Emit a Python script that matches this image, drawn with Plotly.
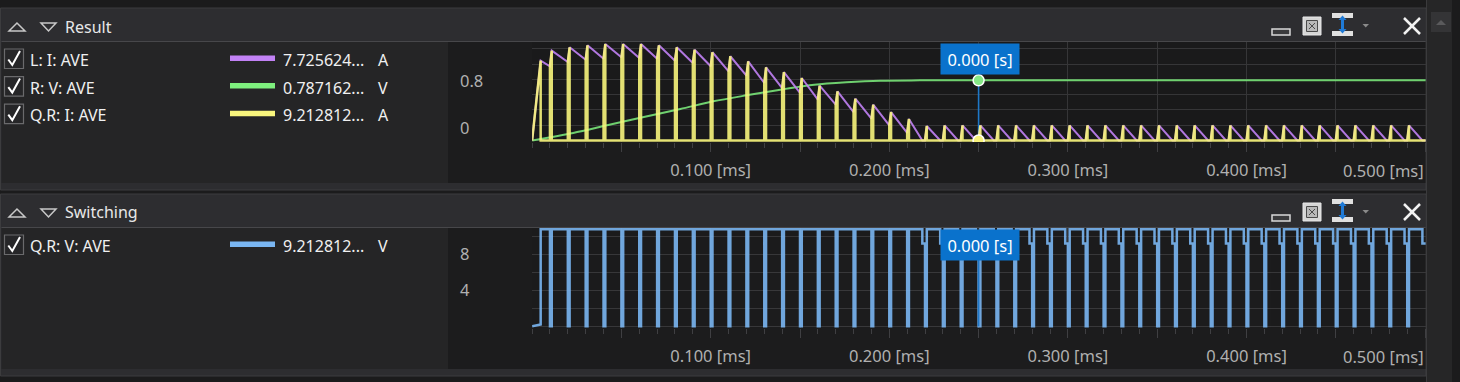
import plotly.graph_objects as go

W, H = 1460, 382

# ---------------- data ----------------
switch_on_ms = [0.00, 0.01, 0.02, 0.03, 0.04, 0.05, 0.06, 0.07, 0.08, 0.09,
                0.10, 0.11, 0.12, 0.13, 0.14, 0.15, 0.16, 0.17, 0.18, 0.19,
                0.20, 0.21, 0.22, 0.23, 0.24, 0.25, 0.26, 0.27, 0.28, 0.29,
                0.30, 0.31, 0.32, 0.33, 0.34, 0.35, 0.36, 0.37, 0.38, 0.39,
                0.40, 0.41, 0.42, 0.43, 0.44, 0.45, 0.46, 0.47, 0.48, 0.49]
first_on_end_ms = 0.0048
on_time_ms = 0.001
dcm_fall_ms = 0.0075
x_end_ms = 0.5004

# inductor current: peak at end of each on-time, value at start of each on-time
L_peak_A = [9.98, 11.23, 11.65, 11.90, 12.06, 12.06, 12.06, 11.90, 11.65, 11.35,
            11.03, 10.53, 9.90, 9.15, 8.56, 7.81, 6.85, 6.15, 5.23, 4.48,
            3.56, 2.69, 1.81, 1.88, 1.90, 1.90, 1.90, 1.90, 1.90, 1.90,
            1.90, 1.90, 1.90, 1.90, 1.90, 1.90, 1.90, 1.90, 1.90, 1.90,
            1.90, 1.90, 1.90, 1.90, 1.90, 1.90, 1.90, 1.90, 1.90, 1.90]
L_valley_A = [0.00, 9.28, 9.81, 10.10, 10.23, 10.40, 10.31, 10.23, 9.98, 9.69,
              9.28, 8.65, 8.10, 7.19, 6.56, 5.94, 5.10, 4.48, 3.56, 2.73,
              1.90, 0.94, 0.00, 0.00, 0.00, 0.00, 0.00, 0.00, 0.00, 0.00,
              0.00, 0.00, 0.00, 0.00, 0.00, 0.00, 0.00, 0.00, 0.00, 0.00,
              0.00, 0.00, 0.00, 0.00, 0.00, 0.00, 0.00, 0.00, 0.00, 0.00]

R_t_ms = [0.0, 0.023, 0.042, 0.060, 0.083, 0.1015, 0.120, 0.139, 0.158, 0.176,
          0.195, 0.217, 0.25, 0.30, 0.40, 0.5004]
R_V = [0.0, 0.098, 0.199, 0.295, 0.412, 0.513, 0.591, 0.665, 0.730, 0.762,
       0.783, 0.787, 0.787, 0.787, 0.787, 0.787]

Q_high_V = 10.78
Q_mid_V = 9.21
Q_on_V = 0.0
Q_first_on_end_V = 0.2

cursor_ms = 0.25
cursor_label = "0.000 [s]"
cursor_R_V = 0.787162
cursor_Q_I = 0.0
cursor_Q_V = 9.212812

res_names = ["L: I: AVE", "R: V: AVE", "Q.R: I: AVE"]
res_colors = ["#c282f5", "#7ef07e", "#f9f67d"]
res_values = ["7.725624...", "0.787162...", "9.212812..."]
res_units = ["A", "V", "A"]
sw_names = ["Q.R: V: AVE"]
sw_colors = ["#7ab6f2"]
sw_values = ["9.212812..."]
sw_units = ["V"]

grid_ms = [0.05, 0.10, 0.15, 0.20, 0.25, 0.30, 0.35, 0.40, 0.45, 0.50]
grid_text = ["", "0.100 [ms]", "", "0.200 [ms]", "", "0.300 [ms]", "", "0.400 [ms]", "", ""]
last_tick_ms = 0.50
last_tick_text = "0.500 [ms]"

# ---------------- waveforms ----------------
N = len(switch_on_ms)
lx, ly, yx, yy, bx, by = [], [], [], [], [], []
for k in range(N):
    t0 = switch_on_ms[k]
    t_end = first_on_end_ms if k == 0 else t0 + on_time_ms
    t_next = switch_on_ms[k + 1] if k + 1 < N else x_end_ms
    v_next = L_valley_A[k + 1] if k + 1 < N else 0.0
    lx += [t0, t_end]; ly += [L_valley_A[k], L_peak_A[k]]
    yx += [t0, t0, t_end, t_end]; yy += [0.0, L_valley_A[k], L_peak_A[k], 0.0]
    bx += [t0, t_end, t_end]
    by += [Q_on_V, Q_first_on_end_V if k == 0 else Q_on_V, Q_high_V]
    if v_next == 0:
        tz = min(t_end + dcm_fall_ms, t_next)
        lx += [tz]; ly += [0.0]
        bx += [tz, tz, t_next]; by += [Q_high_V, Q_mid_V, Q_mid_V]
    else:
        bx += [t_next]; by += [Q_high_V]
lx.append(x_end_ms); ly.append(0.0)
yx.append(x_end_ms); yy.append(0.0)


def X(p):
    return p / W


def Y(p):
    return 1 - p / H


FONT = "Noto Sans"
shapes, annots = [], []
CLEAR = "rgba(0,0,0,0)"


def rect(x0, y0, x1, y1, fill=None, line=None, lw=1, layer="below"):
    shapes.append(dict(type="rect", xref="paper", yref="paper", x0=X(x0), x1=X(x1),
                       y0=Y(y1), y1=Y(y0), fillcolor=fill or CLEAR,
                       line=dict(color=line or CLEAR, width=lw if line else 0), layer=layer))


def seg(x0, y0, x1, y1, color, lw=1, layer="above"):
    shapes.append(dict(type="line", xref="paper", yref="paper", x0=X(x0), y0=Y(y0),
                       x1=X(x1), y1=Y(y1), line=dict(color=color, width=lw), layer=layer))


def poly(pts, fill=None, line=None, lw=1, closed=True, layer="above"):
    path = "M " + " L ".join(f"{X(a):.5f},{Y(b):.5f}" for a, b in pts) + (" Z" if closed else "")
    shapes.append(dict(type="path", xref="paper", yref="paper", path=path, fillcolor=fill or CLEAR,
                       line=dict(color=line or CLEAR, width=lw if line else 0), layer=layer))


def text(x, y, s, size=16, color="#f0f0f0", xanchor="left"):
    annots.append(dict(x=X(x), y=Y(y), xref="paper", yref="paper", text=s, showarrow=False,
                       xanchor=xanchor, yanchor="middle", borderpad=0,
                       font=dict(family=FONT, size=size, color=color)))


# app chrome
rect(1427, 0, 1452, H, "#262627")
seg(1426.5, 0, 1426.5, H, "#3a3a3c", 1, "below")
rect(1431, 12, 1451, 32, "#343436")
poly([(1436, 25), (1441, 20), (1446, 25)], fill="#5a5a5c", layer="below")

for dy, title, names, colors, values, units in [
        (0, "Result", res_names, res_colors, res_values, res_units),
        (186, "Switching", sw_names, sw_colors, sw_values, sw_units)]:
    rect(0.5, 8 + dy, 1426, 190 + dy, "#2d2d30", "#3c3c3e", 1)
    rect(1.5, 9 + dy, 1425.5, 41 + dy, "#2d2d30")
    seg(1.5, 41.5 + dy, 1425.5, 41.5 + dy, "#47474a", 1, "below")
    rect(1.5, 42 + dy, 448, 183 + dy, "#252526")
    rect(448, 42 + dy, 1425.5, 183 + dy, "#1c1c1d")
    # header arrows + title
    poly([(9, 31 + dy), (17, 23 + dy), (25, 31 + dy)], line="#c8c8c8", lw=1.5)
    poly([(41, 23 + dy), (56, 23 + dy), (48.5, 31 + dy)], line="#c8c8c8", lw=1.5)
    text(64, 26.5 + dy, title, 16, "#e8e8e8")
    # header icons
    rect(1272, 29 + dy, 1290, 35 + dy, "#3a3a3c", "#d8d8d8", 1.5, "above")
    rect(1303, 17 + dy, 1321, 35 + dy, "#d6d6d6", "#e8e8e8", 1, "above")
    rect(1306.5, 20.5 + dy, 1317.5, 31.5 + dy, "#b8b8b8", "#4a4a4a", 1, "above")
    seg(1309, 23 + dy, 1315, 29 + dy, "#4a4a4a", 1)
    seg(1315, 23 + dy, 1309, 29 + dy, "#4a4a4a", 1)
    rect(1332, 13 + dy, 1353, 18 + dy, "#e0e0e0", None, 1, "above")
    rect(1332, 31 + dy, 1353, 36 + dy, "#e0e0e0", None, 1, "above")
    seg(1342.5, 18 + dy, 1342.5, 31 + dy, "#1f7ad6", 3)
    poly([(1338.5, 20 + dy), (1342.5, 15.5 + dy), (1346.5, 20 + dy)], fill="#1f7ad6")
    poly([(1338.5, 29 + dy), (1342.5, 33.5 + dy), (1346.5, 29 + dy)], fill="#1f7ad6")
    poly([(1362.5, 24 + dy), (1369, 24 + dy), (1365.75, 27.5 + dy)], fill="#8a8a8a")
    seg(1404, 18 + dy, 1420, 34 + dy, "#f2f2f2", 2.5)
    seg(1420, 18 + dy, 1404, 34 + dy, "#f2f2f2", 2.5)
    # legend rows
    for i, (nm, col, val, un) in enumerate(zip(names, colors, values, units)):
        ry = 59.5 + 27.6 * i + dy
        rect(4.5, ry - 10.5, 23.5, ry + 9, "#262628", "#6a6a6c", 1.2, "above")
        poly([(8.3, ry), (12.3, ry + 5.5), (20, ry - 8.5)], line="#ffffff", lw=2.0, closed=False)
        text(28.5, ry + 0.5, nm, 16)
        rect(230, ry - 4, 275, ry + 1.5, col, None, 1, "above")
        text(281.5, ry + 0.5, val, 16)
        text(377, ry + 0.5, un, 16)

GRID = "#38383a"
TICKC = "#3f3f42"
TICKFONT = dict(family=FONT, size=16.5, color="#b0b0b0")

fig = go.Figure()
# Result panel
fig.add_trace(go.Scatter(x=lx, y=ly, xaxis="x", yaxis="y2", mode="lines",
                         line=dict(color=res_colors[0], width=2), opacity=0.9, hoverinfo="skip"))
fig.add_trace(go.Scatter(x=R_t_ms, y=R_V, xaxis="x", yaxis="y", mode="lines",
                         line=dict(color=res_colors[1], width=2, shape="spline", smoothing=0.8),
                         opacity=0.85, hoverinfo="skip"))
fig.add_trace(go.Scatter(x=yx, y=yy, xaxis="x", yaxis="y2", mode="lines",
                         line=dict(color=res_colors[2], width=2.5), opacity=0.9, hoverinfo="skip"))
fig.add_trace(go.Scatter(x=[cursor_ms, cursor_ms], y=[cursor_R_V, 0.0], xaxis="x", yaxis="y",
                         mode="lines", line=dict(color="#1f78c8", width=1.6), hoverinfo="skip"))
fig.add_trace(go.Scatter(x=[cursor_ms], y=[cursor_R_V], xaxis="x", yaxis="y", mode="markers",
                         marker=dict(size=11, color="#86e886", line=dict(color="#ffffff", width=1.5)),
                         hoverinfo="skip"))
fig.add_trace(go.Scatter(x=[cursor_ms], y=[cursor_Q_I], xaxis="x", yaxis="y2", mode="markers",
                         marker=dict(size=11, color="#f8f27c", line=dict(color="#ffffff", width=1.5)),
                         hoverinfo="skip"))
fig.add_trace(go.Scatter(x=[], y=[], xaxis="x", yaxis="y3", hoverinfo="skip"))
# Switching panel
fig.add_trace(go.Scatter(x=bx, y=by, xaxis="x2", yaxis="y4", mode="lines",
                         line=dict(color=sw_colors[0], width=2.5), opacity=0.9, hoverinfo="skip"))
fig.add_trace(go.Scatter(x=[cursor_ms, cursor_ms], y=[cursor_Q_V, 0.0], xaxis="x2", yaxis="y4",
                         mode="lines", line=dict(color="#1f78c8", width=1.6), hoverinfo="skip"))
fig.add_trace(go.Scatter(x=[cursor_ms], y=[cursor_Q_V], xaxis="x2", yaxis="y4", mode="markers",
                         marker=dict(size=10, color="#a9d1f7", line=dict(color="#ffffff", width=1.2)),
                         hoverinfo="skip"))

for dy in [0, 185.5]:
    annots.append(dict(x=cursor_ms, xref="x" if dy == 0 else "x2", y=Y(59 + dy), yref="paper",
                       text=cursor_label, showarrow=False, xanchor="center", yanchor="middle",
                       xshift=1.5, bgcolor="#0a72cc", borderpad=4, width=70, height=22,
                       font=dict(family=FONT, size=16.5, color="#ffffff")))

# last x tick label, right-aligned to the plot edge as in the reference
for xr, ty in [("x", 170), ("x2", 356)]:
    annots.append(dict(x=last_tick_ms, xref=xr, y=Y(ty), yref="paper", text=last_tick_text,
                       showarrow=False, xanchor="right", yanchor="middle", borderpad=0,
                       font=TICKFONT if False else dict(family=FONT, size=16.5, color="#b0b0b0")))

xcommon = dict(domain=[X(532.1), X(1425.8)], range=[0, x_end_ms], tickmode="array",
               tickvals=grid_ms, ticktext=grid_text, showgrid=True, gridcolor=GRID, gridwidth=1,
               ticks="outside", ticklen=9, tickcolor=TICKC, tickwidth=1, tickangle=0,
               minor=dict(ticks="outside", ticklen=5, tickcolor=TICKC, dtick=0.01, tick0=0,
                          showgrid=False),
               tickfont=TICKFONT, ticklabelstandoff=4,
               zeroline=False, showline=False, automargin=False, fixedrange=True)

g_pxV = 76.4
a_pxA = 8.0
l_px = 58.4
v_px = 9.0
fig.update_layout(
    width=W, height=H, margin=dict(l=0, r=0, t=0, b=0), template="none",
    paper_bgcolor="#1b1b1c", plot_bgcolor=CLEAR, showlegend=False,
    shapes=shapes, annotations=annots,
    xaxis=dict(anchor="y", **xcommon),
    xaxis2=dict(anchor="y4", **xcommon),
    yaxis=dict(domain=[Y(142), Y(42)], anchor="x", range=[-1.5 / g_pxV, 98.5 / g_pxV],
               tickmode="linear", tick0=0, dtick=0.2, showticklabels=False, ticks="",
               showgrid=True, gridcolor=GRID, zeroline=False, showline=False, automargin=False,
               fixedrange=True),
    yaxis2=dict(overlaying="y", anchor="x", range=[-1.5 / a_pxA, 98.5 / a_pxA], visible=False,
                fixedrange=True),
    yaxis3=dict(overlaying="y", anchor="free", position=X(459), side="right",
                range=[-14 / l_px, 86 / l_px], tickmode="array", tickvals=[0, 0.8],
                ticktext=["0", "0.8"], showgrid=False, zeroline=False, showline=False, ticks="",
                tickfont=TICKFONT, automargin=False, fixedrange=True),
    yaxis4=dict(domain=[Y(328), Y(228)], anchor="free", position=X(459), side="right",
                range=[-1.7 / v_px, 98.3 / v_px], tickmode="array", tickvals=[4, 8],
                ticktext=["4", "8"], showgrid=True, gridcolor=GRID, ticks="",
                minor=dict(tickmode="linear", tick0=0, dtick=2, showgrid=True, gridcolor=GRID,
                           ticks=""),
                zeroline=False, showline=False, tickfont=TICKFONT, automargin=False,
                fixedrange=True),
)

fig.write_html("out.html", config={"displayModeBar": False},
               post_script="document.body.style.margin='0';document.body.style.overflow='hidden';")
